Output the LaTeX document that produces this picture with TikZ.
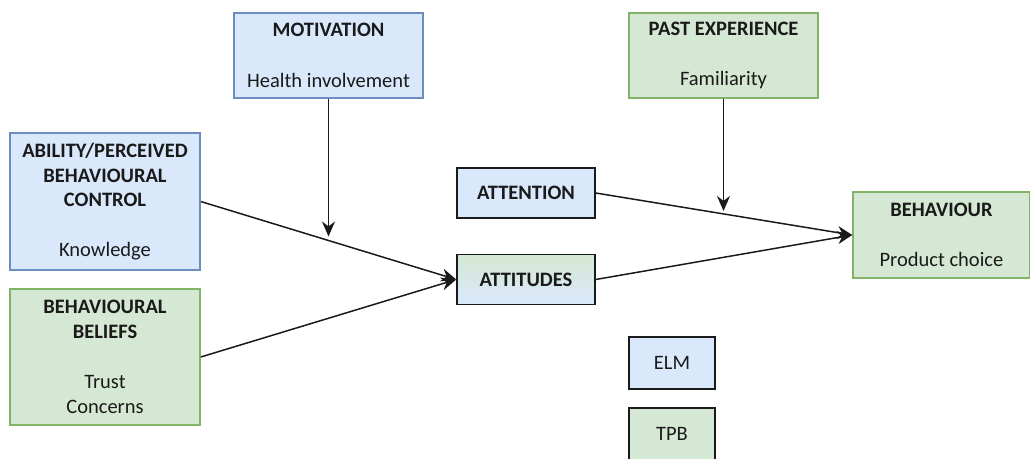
\documentclass[tikz,border=0pt]{standalone}
\usepackage{fontspec}
\setmainfont{Carlito}
\usepackage{tikz}
\usetikzlibrary{arrows.meta,calc,positioning}

\definecolor{eblue}{HTML}{DAE8FC}
\definecolor{eblueline}{HTML}{6C8EBF}
\definecolor{tgreen}{HTML}{D5E8D4}
\definecolor{tgreenline}{HTML}{82B366}
\definecolor{ink}{HTML}{1A1A1A}

\begin{document}
\begin{tikzpicture}[x=1pt,y=-1pt,line width=1.5pt,>={Stealth[length=15pt,width=13pt]}]
       \tikzstyle{every node}=[align=center,inner sep=0pt,text=ink,font=\fontsize{20.5}{24.8}\selectfont]
       \tikzstyle{elmbox}=[draw=eblueline,fill=eblue]
       \tikzstyle{tpbbox}=[draw=tgreenline,fill=tgreen]
       \tikzstyle{darkbox}=[draw=ink,minimum width=138pt,minimum height=50pt]

       \useasboundingbox (0,0) rectangle (1030,458);

       \node[elmbox,minimum width=189pt,minimum height=85pt] (mot)  at (328.5,55.5) {\textbf{MOTIVATION}\\[25.5pt]Health involvement};
       \node[tpbbox,minimum width=189pt,minimum height=85pt] (past) at (723.5,55.5) {\textbf{PAST EXPERIENCE}\\[25.5pt]Familiarity};
       \node[elmbox,minimum width=190pt,minimum height=137pt] (abil) at (105,201.5) {\textbf{ABILITY/PERCEIVED}\\\textbf{BEHAVIOURAL}\\\textbf{CONTROL}\\[25pt]Knowledge};
       \node[tpbbox,minimum width=190pt,minimum height=136pt] (bel)  at (105,357) {\textbf{BEHAVIOURAL}\\\textbf{BELIEFS}\\[25pt]Trust\\Concerns};
       \node[darkbox,fill=eblue] (atten) at (526,193) {\textbf{ATTENTION}};
       \node[darkbox,top color=tgreen,bottom color=eblue] (atti) at (526,279.5) {\textbf{ATTITUDES}};
       \node[tpbbox,minimum width=177pt,minimum height=86pt] (beh) at (941.5,235) {\textbf{BEHAVIOUR}\\[25pt]Product choice};
       \node[darkbox,fill=eblue,minimum width=86pt,minimum height=52pt] (elm) at (672,363) {ELM};
       \node[darkbox,fill=tgreen,minimum width=86pt,minimum height=52pt] (tpb) at (672,434) {TPB};

       \coordinate (m1) at ($(abil.east)!0.5!(atti.west)$);
       \coordinate (m2) at ($(atten.east)!0.5!(beh.west)$);

       \path[->,color=ink]
       (abil.east) edge (atti.west)
       (bel.east) edge (atti.west)
       (atten.east) edge (beh.west)
       (atti.east) edge (beh.west)
       (mot.south) edge [shorten >=4pt] (mot.south |- m1)
       (past.south) edge [shorten >=3pt] (past.south |- m2);
\end{tikzpicture}
\end{document}
